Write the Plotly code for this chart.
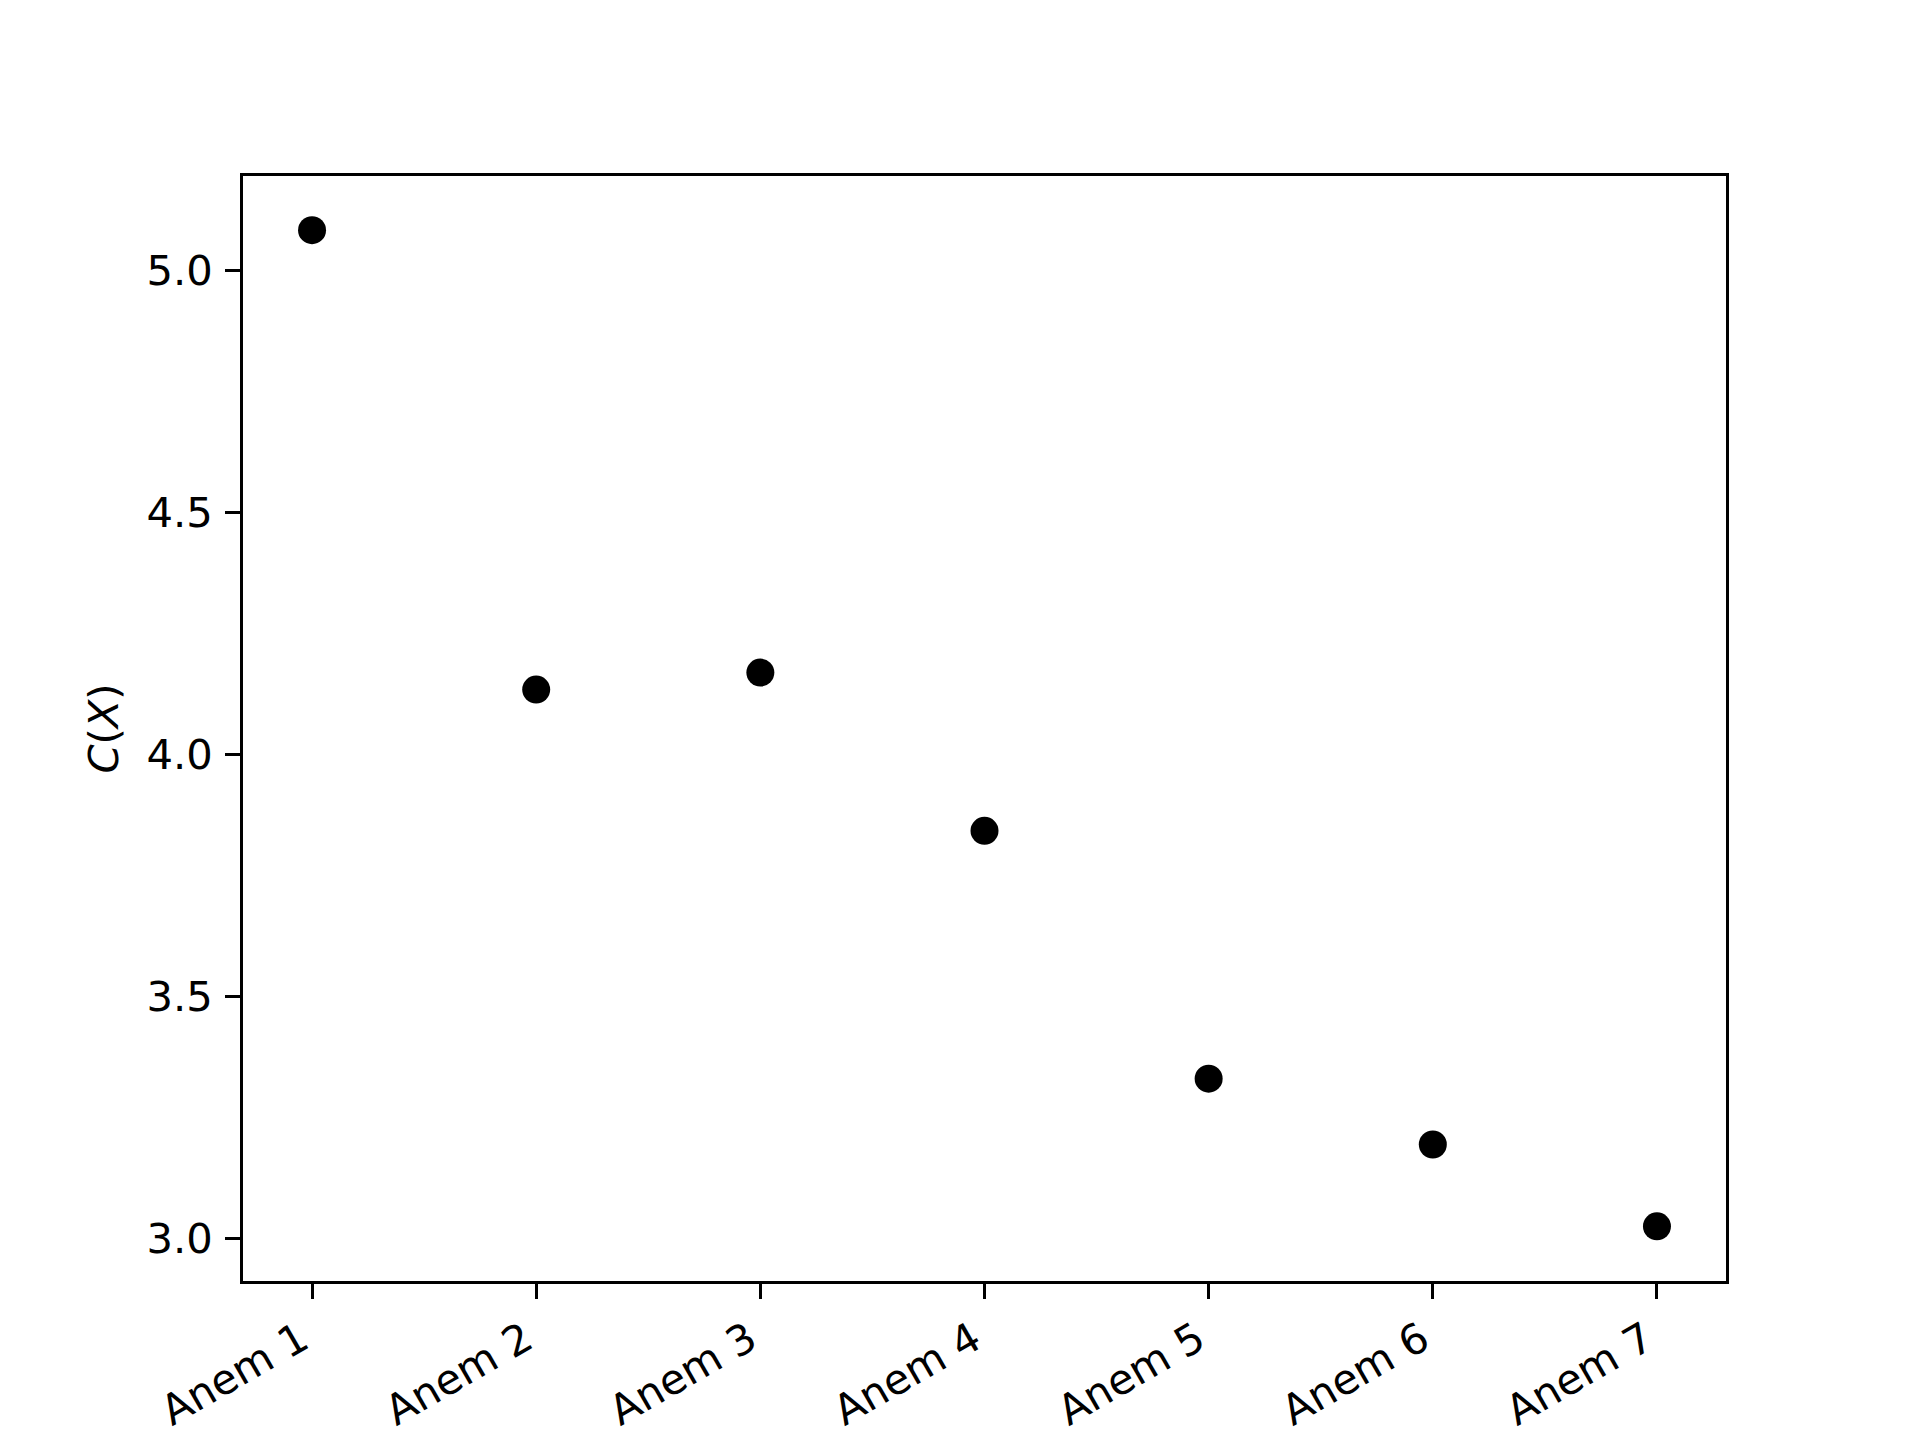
import plotly.graph_objects as go

categories = ["Anem 1", "Anem 2", "Anem 3", "Anem 4", "Anem 5", "Anem 6", "Anem 7"]
values = [5.084, 4.135, 4.170, 3.843, 3.331, 3.195, 3.026]
y_ticks = [3.0, 3.5, 4.0, 4.5, 5.0]
y_tick_labels = ["3.0", "3.5", "4.0", "4.5", "5.0"]

fig = go.Figure()
fig.add_trace(go.Scatter(
    x=list(range(len(categories))), y=values, mode="markers",
    marker=dict(color="black", size=28, line=dict(width=0)),
    showlegend=False,
))

font = dict(family="DejaVu Sans", size=41.7, color="black")
axis_common = dict(
    showline=True, linecolor="black", linewidth=3.3, mirror=True,
    ticks="outside", ticklen=14.6, tickwidth=3.3, tickcolor="black",
    showgrid=False, zeroline=False, tickfont=font,
)
fig.update_layout(
    width=1920, height=1440,
    paper_bgcolor="white", plot_bgcolor="white",
    margin=dict(l=235, r=202, t=168, b=167, autoexpand=False),
    font=font,
    xaxis=dict(
        range=[-0.308, 6.308],
        tickmode="array", tickvals=list(range(len(categories))), ticktext=categories,
        tickangle=-30, ticklabelshift=-11, ticklabelstandoff=0,
        **axis_common,
    ),
    yaxis=dict(
        range=[2.913, 5.196],
        tickmode="array", tickvals=y_ticks, ticktext=y_tick_labels,
        title=dict(text="<i>C</i>(<i>X</i>)", font=font, standoff=16),
        ticklabelstandoff=4,
        **axis_common,
    ),
)
fig.write_html("out.html")
